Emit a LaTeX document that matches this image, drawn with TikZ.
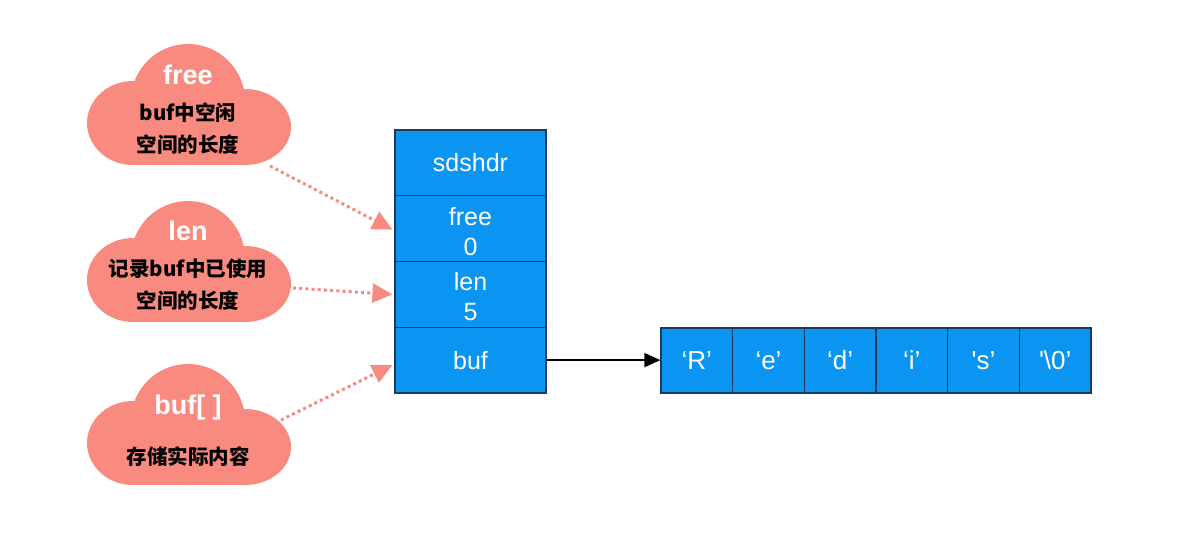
\documentclass[tikz,border=0pt]{standalone}
\usepackage{fontspec}
\setmainfont{Liberation Sans}
\newfontfamily\cjk{Noto Sans CJK SC}
\usetikzlibrary{arrows.meta,calc}
\definecolor{cloudc}{HTML}{F88A7F}
\definecolor{boxblue}{HTML}{0B95F2}
\definecolor{boxline}{HTML}{1E3A5C}
\newcommand\mycloud[2]{%
  \begin{scope}[shift={(#1,#2)}]
    \fill[cloudc] (0,-4) circle[radius=57pt];
    \fill[cloudc] (-55,18) ellipse[x radius=46pt, y radius=42pt];
    \fill[cloudc] (57,22) ellipse[x radius=46pt, y radius=38pt];
    \fill[cloudc] (-60,0) rectangle (60,60);
  \end{scope}}
\tikzset{
  cell/.style={draw=boxline, fill=boxblue, line width=1.2pt,
    minimum width=151pt, minimum height=65.75pt, inner sep=0pt},
  celltext/.style={text=white, inner sep=0pt,
    font=\fontsize{25}{30}\selectfont, align=center},
  acell/.style={draw=boxline, fill=boxblue, text=white, line width=1.2pt,
    minimum width=71.67pt, minimum height=65pt, inner sep=0pt,
    font=\fontsize{26}{30}\selectfont},
  ctitle/.style={text=white, font=\fontsize{27}{32}\selectfont\bfseries, inner sep=0pt},
  ctext/.style={text=black, font=\cjk\fontsize{20.5}{32}\selectfont\bfseries, align=center, inner sep=0pt},
  dotarrow/.style={draw=cloudc, line width=3pt, dash pattern=on 3pt off 3.2pt,
    -{Triangle[length=20pt,width=19pt]}},
}
\begin{document}
\begin{tikzpicture}[x=1pt,y=-1pt]
\useasboundingbox (0,0) rectangle (1177,540);
% clouds
\mycloud{188}{105}
\mycloud{188}{262}
\mycloud{188}{425}
\node[ctitle] (c1t) at (188,75) {free};
\node[ctext] (c1x) at (188,129) {buf中空闲\\空间的长度};
\node[ctitle] (c2t) at (188,231) {len};
\node[ctext] (c2x) at (188,285) {记录buf中已使用\\空间的长度};
\node[ctitle] (c3t) at (188,408) {buf[ ]};
\node[ctext] (c3x) at (188,457) {存储实际内容};
\coordinate (c1o) at (270,166);
\coordinate (c2o) at (293,288);
\coordinate (c3o) at (281,420);
% struct
\node[cell] (sds) at (470.5,162.9) {};
\node[cell] (free) at (470.5,228.6) {};
\node[cell] (len) at (470.5,294.4) {};
\node[cell] (buf) at (470.5,360.1) {};
\node[celltext] (sdst) at (sds) {sdshdr};
\node[celltext] (freet) at ($(free)+(0,2.5)$) {free\\0};
\node[celltext] (lent) at ($(len)+(0,2.5)$) {len\\5};
\node[celltext] (buft) at (buf) {buf};
% array
\node[acell] (a1) at (696.8,360.5) {‘R’};
\node[acell] (a2) at (768.5,360.5) {‘e’};
\node[acell] (a3) at (840.2,360.5) {‘d’};
\node[acell] (a4) at (911.8,360.5) {‘i’};
\node[acell] (a5) at (983.5,360.5) {\textquotesingle s’};
\node[acell] (a6) at (1055.2,360.5) {\textquotesingle\textbackslash 0’};
% connectors
\draw[line width=1.8pt, -{Triangle[length=16pt,width=14pt]}] (buf.east) -- (buf.east -| a1.west);
\draw[dotarrow] (c1o) -- ($(free.west)+(-2,1)$);
\draw[dotarrow] (c2o) -- ($(len.west)+(-2,0)$);
\draw[dotarrow] (c3o) -- ($(buf.west)+(-2,5)$);
\end{tikzpicture}
\end{document}
